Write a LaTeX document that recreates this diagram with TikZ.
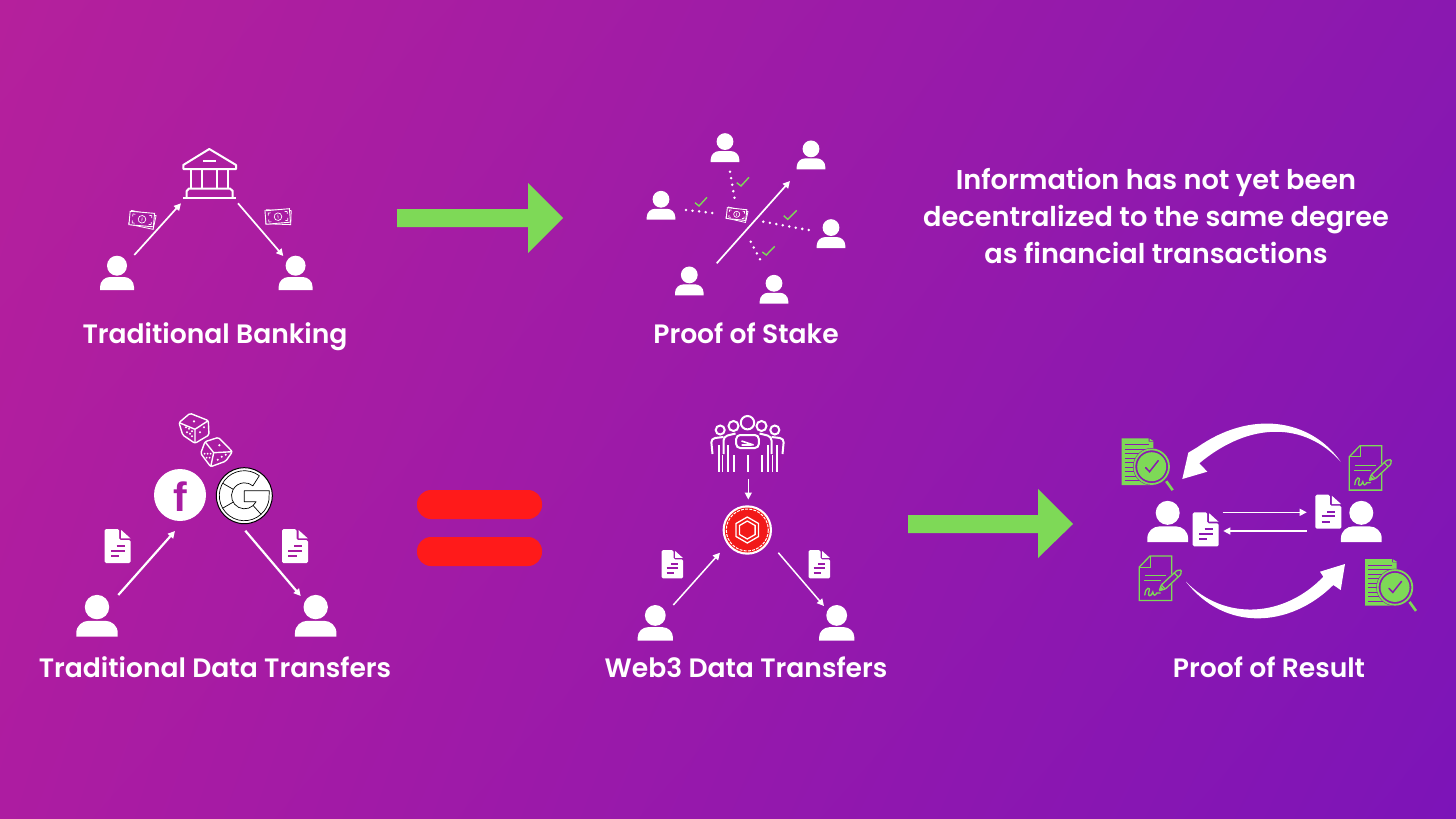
\documentclass[tikz,border=0pt]{standalone}
\usepackage{fontspec}
\setmainfont{Poppins}[BoldFont=*-SemiBold]
\newfontfamily\logofont{Liberation Sans}
\usetikzlibrary{arrows.meta,calc,shadings}
\definecolor{leaf}{HTML}{7ED957}
\definecolor{eqred}{HTML}{FF1A1A}
\definecolor{cutA}{HTML}{A81CA2}
\definecolor{cutB}{HTML}{9A1AA8}
\definecolor{cutC}{HTML}{8A18B2}
\definecolor{bgTL}{HTML}{B5209C}
\definecolor{bgTR}{HTML}{8A18B0}
\definecolor{bgBL}{HTML}{AD1CA1}
\definecolor{bgBR}{HTML}{7C14B8}
\tikzset{
  lab/.style={font=\fontsize{26.6}{30}\selectfont\bfseries,text=white,inner sep=0pt,anchor=base},
  arr/.style={white,line width=#1,-{Triangle[length=7pt,width=7pt]},shorten >=0pt},
  arr/.default=1.7,
  dotline/.style={white,line width=2.8pt,line cap=round,dash pattern=on 0pt off 6.6pt},
  tick/.style={leaf,line width=1.4pt},
  bigarrow/.style={fill=leaf,draw=none},
  pics/person/.style={code={
    \fill[white] (0,-24.3) circle (10);
    \fill[white] (-17,0) -- (-17,-3) .. controls (-17,-9) and (-12,-13) .. (-7,-13) -- (7,-13) .. controls (12,-13) and (17,-9) .. (17,-3) -- (17,0) -- cycle;
  }},
  pics/money/.style={code={
    \draw[white,line width=.8pt,rotate=-7] (-12,-6.5) rectangle (13,7.5);
    \draw[white,line width=.9pt,fill=cutA] (-12.5,-7) rectangle (12,6.5);
    \draw[white,line width=.7pt] (0,0) circle (3.8);
    \draw[white,line width=.7pt] (-9.5,-2) |- (-7,-4.5) (-9.5,2) |- (-7,4.5) (9.5,-2) |- (7,-4.5) (9.5,2) |- (7,4.5);
    \draw[white,line width=.6pt] (0,-2) -- (0,2);
  }},
  pics/doc/.style={code={
    \fill[white,rounded corners=1.5pt] (-13,-17) -- (1.5,-17) -- (1.5,-6) -- (13,-6) -- (13,17) -- (-13,17) -- cycle;
    \fill[white] (3.5,-16) -- (12.8,-7.6) -- (3.5,-7.6) -- cycle;
    \draw[#1,line width=2pt] (-1,0) -- (7,0) (-6.7,4.5) -- (7,4.5) (-6.7,10) -- (1.7,10);
  }},
  pics/lensdoc/.style={code={
    \fill[leaf] (-30,-28.3) -- (-3,-28.3) -- (-3,-25) -- (1.6,-25) -- (1.6,18.3) -- (-30,18.3) -- cycle;
    \fill[leaf] (-2,-28) -- (2,-25.5) -- (-2,-25.5) -- cycle;
    \foreach \ry in {-22,-17.5,-13,-8.5,-4,0.5,5,9.5,14}
      \draw[cutC,line width=.9pt] (-27,\ry) -- (-3,\ry);
    \fill[cutC] (0,0) circle (18.7);
    \draw[leaf,line width=1.8pt] (0,0) circle (17.3);
    \fill[leaf] (0,0) circle (14.5);
    \draw[leaf,line width=2.6pt] (14.5,14.5) -- (21,23.5);
    \draw[cutC,line width=1.5pt,line cap=round] (-6,1) -- (-2.2,5) -- (6.5,-6);
  }},
  pics/signdoc/.style={code={
    \draw[leaf,line width=1.3pt] (0,11) -- (10.7,0) -- (32.4,0) -- (32.4,44.4) -- (0,44.4) -- cycle;
    \draw[leaf,line width=1pt] (0,11) -- (10.7,11) -- (10.7,0);
    \draw[leaf,line width=1.3pt] (6,19.5) -- (27,19.5) (5,24.5) -- (22,24.5);
    \draw[leaf,line width=1.3pt,line cap=round] (5.5,39) .. controls (6,31) and (12,30) .. (9.5,36) .. controls (8,41) and (12,41) .. (13.5,36) .. controls (14,40) and (16,40) .. (17.5,37) -- (21,37);
    \draw[cutC,line width=7pt] (21,34) -- (40,16);
    \draw[leaf,line width=1.3pt,rounded corners=1pt,fill=cutC] (20,34.5) -- (22,29) -- (37.5,14.5) -- (42,14) -- (41.5,18.5) -- (26,33) -- cycle;
    \draw[leaf,line width=1.2pt] (22,29) -- (26,33) (35,17) -- (39,21);
    \fill[leaf] (19.5,35.5) -- (21.5,30.5) -- (24.5,33.5) -- cycle;
  }},
  pics/groupside/.style={code={
    \draw[white,line width=2pt] (-14,16) circle (5) (-27.3,20) circle (4.5);
    \draw[white,line width=2pt] (-29,35) -- (-29,62.3) (-20,35) -- (-20,62.3) (-14,45) -- (-14,62.3);
    \draw[white,line width=1.5pt] (-25,45) -- (-25,62.3);
    \draw[white,line width=2pt,rounded corners=4pt] (-35,44) -- (-36.5,28.5) -- (-24,27);
    \draw[white,line width=2pt,rounded corners=4pt] (-24,44) -- (-24,26.5) -- (-12,23.5);
  }}
}
\begin{document}
\begin{tikzpicture}[x=1pt,y=-1pt]
\useasboundingbox (0,0) rectangle (1456,819);
\shade[upper left=bgTL,upper right=bgTR,lower left=bgBL,lower right=bgBR] (0,0) rectangle (1456,819);

% ---- labels
\node[lab] (tb) at (215,343) {Traditional Banking};
\node[lab] (pos) at (746,343) {Proof of Stake};
\node[lab] (tdt) at (215,677) {Traditional Data Transfers};
\node[lab] (wdt) at (746,677) {Web3 Data Transfers};
\node[lab] (por) at (1269,677) {Proof of Result};
\node[lab,anchor=center,align=center,font=\fontsize{27.2}{37}\selectfont\bfseries] (info) at (1156,216) {Information has not yet been\\decentralized to the same degree\\as financial transactions};

% ---- traditional banking
\pic (u1) at (117,290) {person};
\pic (u2) at (295.6,290) {person};
\begin{scope}[white,line width=2pt]
\draw[line join=round] (209.3,149) -- (236,165) -- (236,169) -- (183.3,169) -- (183.3,165) -- cycle;
\draw (203.3,160.5) -- (215.7,160.5);
\draw (191,170) -- (191,188) (202,170) -- (202,188) (216.7,170) -- (216.7,188) (227.7,170) -- (227.7,188);
\draw (186.7,198) -- (186.7,191) -- (189,188.5) -- (230,188.5) -- (232.7,191) -- (232.7,198);
\draw (183.3,198.3) -- (236,198.3);
\end{scope}
\pic[rotate=-5] (m1) at (142,219.3) {money};
\pic[rotate=5] (m2) at (278,216.7) {money};
\coordinate (a1s) at (134.3,255); \coordinate (a1e) at (181,203.3);
\coordinate (a2s) at (238,203.3); \coordinate (a2e) at (283.3,256);
\draw[arr] (a1s) -- (a1e);
\draw[arr] (a2s) -- (a2e);

% ---- big arrows
\fill[bigarrow] (397,209) -- (528,209) -- (528,183) -- (563,218) -- (528,253) -- (528,227) -- (397,227) -- cycle;
\fill[bigarrow] (908,515) -- (1038,515) -- (1038,489) -- (1073,524) -- (1038,558) -- (1038,533) -- (908,533) -- cycle;
% ---- equals
\fill[eqred,rounded corners=14pt] (417,490) rectangle (542,519);
\fill[eqred,rounded corners=14pt] (417,537) rectangle (542,566);

% ---- proof of stake
\foreach \px/\py/\pn in {725/162/a,811/169.3/b,661/219.7/c,831/248/d,689.3/295.3/e,774/303.7/f}
  \pic[scale=.84] (s\pn) at (\px,\py) {person};
\pic[scale=.8,rotate=-6] (m3) at (736.7,214.3) {money};
\coordinate (p1s) at (716.7,263.3); \coordinate (p1e) at (790,181);
\draw[arr] (p1s) -- (p1e);
\coordinate (d1a) at (730,171.7); \coordinate (d1b) at (734.5,198);
\coordinate (d2a) at (686,210); \coordinate (d2b) at (713,213);
\coordinate (d3a) at (763.3,221.7); \coordinate (d3b) at (809.5,230.2);
\coordinate (d4a) at (750.7,241.7); \coordinate (d4b) at (762.9,264.6);
\draw[dotline] (d1a) -- (d1b);
\draw[dotline] (d2a) -- (d2b);
\draw[dotline] (d3a) -- (d3b);
\draw[dotline] (d4a) -- (d4b);
\draw[tick] (736.7,182.7) -- (741,186) -- (749,177.3);
\draw[tick] (695,202.7) -- (699,206) -- (707,197.3);
\draw[tick] (783.7,215.7) -- (787.7,219.3) -- (796.7,210.3);
\draw[tick] (762.3,252) -- (766.3,255) -- (774.7,246.3);

% ---- traditional data transfers
\pic[scale=1.22] (u3) at (97,636.7) {person};
\pic[scale=1.22] (u4) at (315.7,636.7) {person};
\pic (dc1) at (117.7,546) {doc={cutA}};
\pic (dc2) at (295,546) {doc={cutA}};
\coordinate (a3s) at (118.3,595); \coordinate (a3e) at (175,531);
\coordinate (a4s) at (245.3,530.7); \coordinate (a4e) at (300.7,596);
\draw[arr=2.2] (a3s) -- (a3e);
\draw[arr=2.2] (a4s) -- (a4e);
\fill[white] (180,495) circle (26);
\node[text=cutA,font=\logofont\bfseries\fontsize{41}{41}\selectfont,anchor=base,inner sep=0pt] (fb) at (180.5,511.7) {f};
\draw[black,fill=white,line width=1pt] (244.3,495.7) circle (28);
\begin{scope}[shift={(244.3,495.7)},black,line width=.7pt]
  \draw[line join=round] (-53:25) arc (-53:-350:25) -- (25,-5) -- (0,-5) -- (0,6) -- (11.8,6) arc (27:310:13) -- cycle;
  \draw (150:13) -- (150:25) (-150:13) -- (-150:25);
  \draw (48:13) -- (48:25);
\end{scope}
% dice
\begin{scope}[shift={(194,428.3)},white,line width=1.4pt]
  \draw[rounded corners=1.5pt,line join=round] (-4,-15) -- (14.3,-7.7) -- (15,6.7) -- (1,15) -- (-11.3,6.7) -- (-15,-5.7) -- cycle;
  \draw (-15,-5.7) -- (1,1) -- (14.3,-7.7) (1,1) -- (1,15);
  \fill (-8,-1) circle (1.1) (-7,4) circle (1.1) (-5,0.5) circle (1.1) (-4,5.5) circle (1.1) (-2,3) circle (1.1) (-2,8) circle (1.1);
  \fill (0,-7) circle (1.2) (6,4) circle (1.1) (10,-1) circle (1.1);
\end{scope}
\begin{scope}[shift={(216.7,452.7)},white,line width=1.4pt]
  \draw[rounded corners=1.5pt,line join=round] (1.7,-15.3) -- (15.7,-1) -- (9,8.5) -- (-6,14) -- (-16,.7) -- (-11.7,-11) -- cycle;
  \draw (-11.7,-11) -- (-3,0) -- (15.7,-1) (-3,0) -- (-6,14);
  \fill (2.7,-7.5) circle (1.2);
  \fill (-12,1) circle (1) (-9,1) circle (1) (-6,1) circle (1) (-10,5) circle (1) (-7,5) circle (1);
  \fill (1,7) circle (1.1) (5,4) circle (1.1) (9,2) circle (1.1);
\end{scope}

% ---- web3 transfers
\pic[scale=1.04] (u5) at (655.3,640.7) {person};
\pic[scale=1.04] (u6) at (836.7,640.7) {person};
\pic[scale=.83] (dc3) at (672.3,564.3) {doc={cutB}};
\pic[scale=.83] (dc4) at (819.3,564.3) {doc={cutB}};
\coordinate (a5s) at (673.3,605); \coordinate (a5e) at (720,552.7);
\coordinate (a6s) at (778.3,552.7); \coordinate (a6e) at (824,606);
\draw[arr=1.5] (a5s) -- (a5e);
\draw[arr=1.5] (a6s) -- (a6e);
\coordinate (a7s) at (748.3,479.3); \coordinate (a7e) at (748.3,499.5);
\draw[arr=1.5] (a7s) -- (a7e);
\begin{scope}[shift={(747.5,410)}]
  \pic {groupside};
  \pic[xscale=-1] {groupside};
  \draw[white,line width=2pt] (0,12.7) circle (6.7);
  \draw[white,line width=2pt,rounded corners=4pt] (-11.3,38) -- (-11.3,25) -- (11.3,25) -- (11.3,38) -- cycle;
  \draw[white,line width=1.7pt] (-6,31) -- (6,35) (-6,35) -- (4,35);
  \draw[white,line width=2pt] (0,45) -- (0,62.3);
\end{scope}
\fill[white] (747.3,530) circle (24.7);
\fill[eqred!95!black] (747.3,530) circle (22.5);
\draw[white,line width=1pt,dash pattern=on 3pt off 1.2pt] (747.3,530) circle (21);
\begin{scope}[shift={(747.3,530)},white,line width=1.3pt]
  \draw (90:13) -- (150:13) -- (210:13) -- (270:13) -- (330:13) -- (30:13) -- cycle;
  \draw (90:9) -- (150:9) -- (210:9) -- (270:9) -- (330:9) -- (30:9) -- cycle;
\end{scope}

% ---- proof of result
\pic[scale=1.2] (u7) at (1167.7,542) {person};
\pic[scale=1.2] (u8) at (1361.3,542) {person};
\pic (dc5) at (1205.7,529.3) {doc={cutC}};
\pic (dc6) at (1328.3,511.7) {doc={cutC}};
\coordinate (a8s) at (1222.7,512.3); \coordinate (a8e) at (1306.7,512.3);
\coordinate (a9s) at (1306.7,531); \coordinate (a9e) at (1223.3,531);
\draw[arr=1.3] (a8s) -- (a8e);
\draw[arr=1.3] (a9s) -- (a9e);
\pic (ld1) at (1151.7,466.7) {lensdoc};
\pic (ld2) at (1395,587.4) {lensdoc};
\pic (sd1) at (1349.3,445.7) {signdoc};
\pic (sd2) at (1139.3,556) {signdoc};
\fill[white] (1340.7,461.7) .. controls (1310,418) and (1250,410) .. (1197.3,447.3) -- (1188.3,452.7) -- (1182.3,479) -- (1207.3,471.7) -- (1199.3,463.3) .. controls (1250,421) and (1305,422) .. cycle;
\fill[white] (1186,581.7) .. controls (1225,632) and (1290,628) .. (1333.3,585) -- (1340.7,590) -- (1345,564) -- (1320,571.7) -- (1323.3,576.7) .. controls (1285,617) and (1225,622) .. cycle;
\end{tikzpicture}
\end{document}
